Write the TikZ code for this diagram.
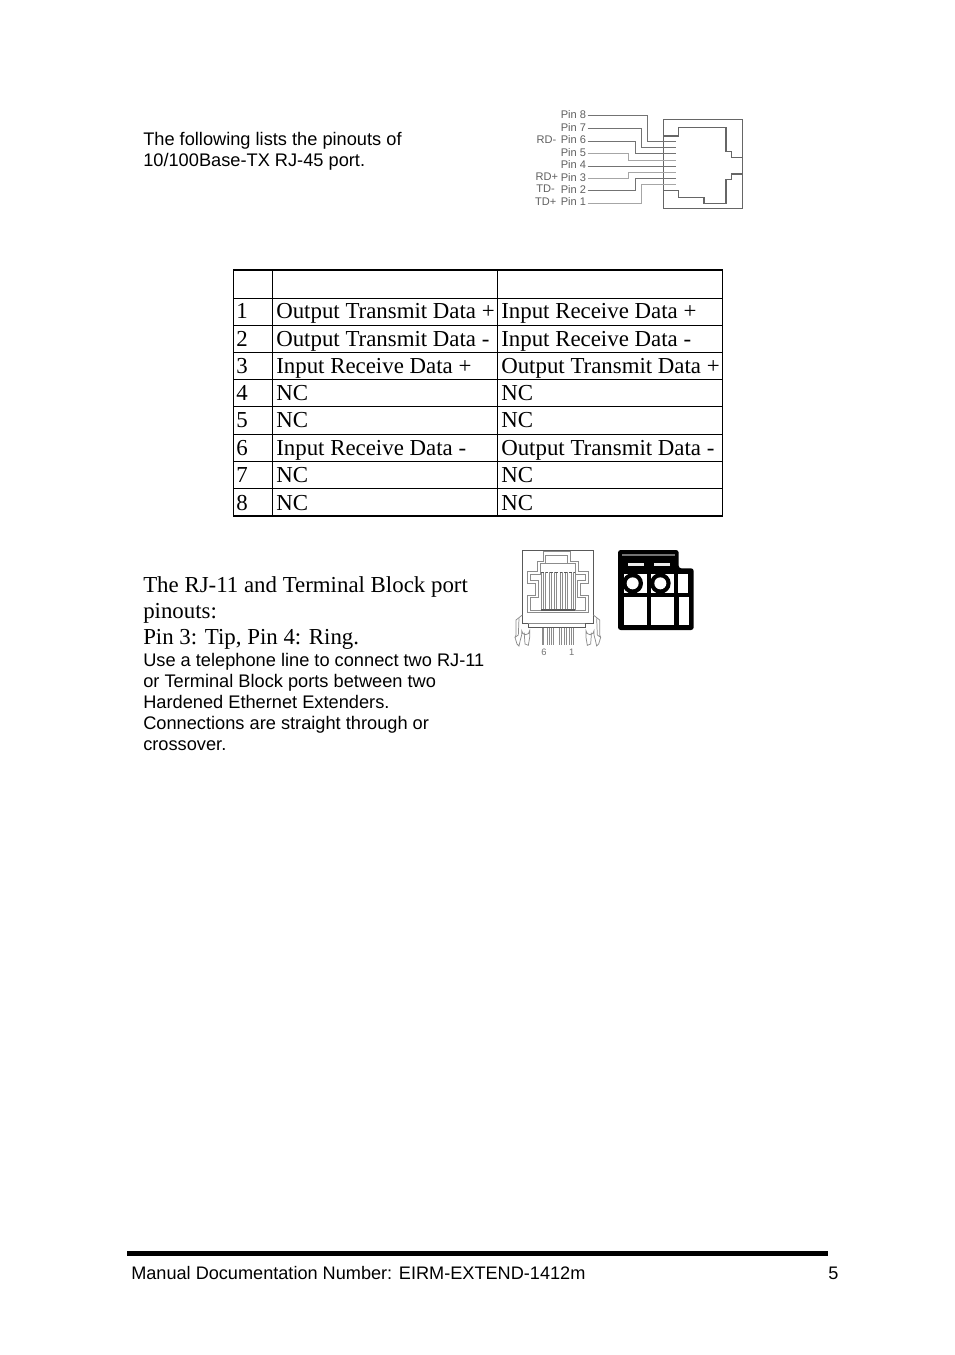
\documentclass[tikz,border=0pt]{standalone}
\usepackage{fontspec}
\setmainfont{Liberation Serif}
\newfontfamily\arial{Liberation Sans}
\tikzset{
  serif/.style={anchor=base west,inner sep=0pt,font=\fontsize{17.15}{20}\selectfont},
  sans/.style={anchor=base west,inner sep=0pt,font=\arial\fontsize{13.67}{16}\selectfont},
  foot/.style={anchor=base west,inner sep=0pt,font=\arial\fontsize{13.6}{16}\selectfont},
  pinl/.style={anchor=base east,inner sep=0pt,text=black!62,font=\arial\fontsize{8.3}{10}\selectfont},
  wire/.style={draw=black!55,line width=0.75pt},
  lwire/.style={draw=black!35,line width=0.75pt},
  shell/.style={draw=black!60,line width=0.8pt},
  rj/.style={draw=black!45,line width=0.55pt},
  rjd/.style={draw=black!65,line width=0.6pt},
  grid/.style={draw=black,line width=0.6pt}
}
\begin{document}
\begin{tikzpicture}[x=0.75pt,y=-0.75pt]
\useasboundingbox (0,0) rectangle (954,1355);
\fill[white] (0,0) rectangle (954,1355);
% text
\node[sans] (t1) at (143,146) {The following lists the pinouts of};
\node[sans] (t2) at (143,167) {10/100Base-TX RJ-45 port.};
% RJ-45
\begin{scope}[shift={(525,100)},x=0.25pt,y=-0.25pt]
\draw[shell,line width=1pt] (416,58) rectangle (652,325);
\draw[shell] (416,108)--(460,108)--(460,83)--(603,83)--(603,155)--(620,155)--(620,172)--(652,172);
\draw[shell] (652,222)--(620,222)--(620,238)--(603,238)--(603,310)--(537,310)--(537,292)--(460,292)--(460,272)--(416,272);
\foreach \n/\y/\lab in {8/58/Pin 8,7/95/Pin 7,6/133/Pin 6,5/171/Pin 5,4/208/Pin 4,3/245/Pin 3,2/281/Pin 2,1/319/Pin 1}
  \node[pinl] (p\n) at (184,\y-1) {\lab};
\node[pinl] (rdm) at (95,130) {RD-};
\node[pinl] (rdp) at (100,242) {RD+};
\node[pinl] (tdm) at (90,279) {TD-};
\node[pinl] (tdp) at (95,317) {TD+};
\coordinate (s8) at (452,124);\coordinate (s7) at (452,143);\coordinate (s6) at (452,161);\coordinate (s5) at (452,181);
\coordinate (s4) at (452,199);\coordinate (s3) at (452,217);\coordinate (s2) at (452,236);\coordinate (s1) at (452,255);
\draw[wire] (188,48)--(368,48)--(368,124)--(s8);
\draw[wire] (188,86)--(349,86)--(349,143)--(s7);
\draw[wire] (188,124)--(330,124)--(330,161)--(s6);
\draw[lwire] (188,162)--(310,162)--(310,181)--(s5);
\draw[wire] (188,199)--(s4);
\draw[lwire] (188,236)--(310,236)--(310,217)--(s3);
\draw[wire] (188,272)--(330,272)--(330,236)--(s2);
\draw[lwire] (188,310)--(349,310)--(349,255)--(s1);
\end{scope}
% table
\draw[black,line width=1.5pt] (233,270)--(723,270);
\draw[black,line width=1.5pt] (233,516)--(723,516);
\foreach \y in {298,325,352,379,406,434,461,488} \draw[grid] (233,\y)--(723,\y);
\foreach \x in {233.5,272,497,722} \draw[grid] (\x,270)--(\x,516);
\foreach \n/\y/\a/\b in {
 1/318/Output Transmit Data +/Input Receive Data +,
 2/346/Output Transmit Data -/Input Receive Data -,
 3/373/Input Receive Data +/Output Transmit Data +,
 4/400/NC/NC,
 5/427/NC/NC,
 6/455/Input Receive Data -/Output Transmit Data -,
 7/482/NC/NC,
 8/510/NC/NC}{
  \node[serif] (r\n) at (236,\y) {\n};
  \node[serif] (a\n) at (276,\y) {\a};
  \node[serif] (b\n) at (501,\y) {\b};
}
% RJ-11 text
\node[serif] (h1) at (143,592) {The RJ-11 and Terminal Block port};
\node[serif] (h2) at (143,618) {pinouts:};
\node[serif] (h3) at (143,644) {Pin 3: Tip, Pin 4: Ring.};
\node[sans] (u1) at (143,666) {Use a telephone line to connect two RJ-11};
\node[sans] (u2) at (143,687) {or Terminal Block ports between two};
\node[sans] (u3) at (143,708) {Hardened Ethernet Extenders.};
\node[sans] (u4) at (143,729) {Connections are straight through or};
\node[sans] (u5) at (143,750) {crossover.};
% RJ-11 drawing
\begin{scope}[shift={(505,540)},x=0.25pt,y=-0.25pt]
% body
\draw[rjd] (52,225)--(52,30)--(265,30)--(265,225);
\draw[rjd] (52,225)--(52,250)--(70,250)--(70,262)--(240,262)--(240,250)--(265,250)--(265,225);
\draw[rj] (70,250)--(240,250);
% stepped contours
\draw[rj] (68,218)--(68,165)--(92,165)--(92,130)--(68,130)--(68,95)--(98,95)--(98,65)--(115,65)--(115,35)--(195,35)--(195,65)--(220,65)--(220,95)--(250,95)--(250,130)--(225,130)--(225,165)--(250,165)--(250,218)--cycle;
\draw[rj] (76,210)--(76,172)--(100,172)--(100,122)--(76,122)--(76,103)--(106,103)--(106,70)--(210,70)--(210,103)--(242,103)--(242,122)--(217,122)--(217,172)--(242,172)--(242,210)--cycle;
\draw[rj] (122,70)--(122,45)--(187,45)--(187,70);
% contacts
\foreach \x in {108,116,122,132,138,148,154,166,172,182,188,198,204,210}
  \draw[rj] (\x,97)--(\x,210);
\draw[rjd,line width=0.9pt] (108,210)--(210,210);
\draw[rjd,dash pattern=on 2pt off 1.5pt] (108,97)--(210,97);
% pins
\foreach \x in {113,116,126,132,140,146,162,168,178,184,194,200,205}
  \draw[rj] (\x,265)--(\x,316);
% clips
\draw[rj] (52,225)--(33,240)--(33,285)--(30,292)--(36,312)--(42,318)--(46,300)--(50,285)--(50,272) arc[start angle=180,end angle=0,radius=12]--(74,292)--(70,316)--(60,312)--(58,285)--(58,278);
\draw[rj] (42,235)--(40,285)--(30,292);
\draw[rj] (265,225)--(284,240)--(284,285)--(287,292)--(281,312)--(275,318)--(271,300)--(267,285)--(267,272) arc[start angle=0,end angle=180,radius=12]--(243,292)--(247,316)--(257,312)--(259,285)--(259,278);
\draw[rj] (275,235)--(277,285)--(287,292);
\node[inner sep=0pt,text=black!55,font=\arial\fontsize{7}{8}\selectfont] (six) at (117,336) {6};
\node[inner sep=0pt,text=black!55,font=\arial\fontsize{7}{8}\selectfont] (one) at (200,336) {1};
% terminal block
\fill[black,rounded corners=2pt] (339,30)--(521,30)--(521,85)--(566,85)--(566,270)--(339,270)--cycle;
\fill[black!55] (351,42) rectangle (511,48);
\fill[black!8] (368,70) rectangle (416,78);
\fill[black!8] (448,70) rectangle (496,78);
\fill[white] (358,170) rectangle (426,255);
\fill[white] (439,170) rectangle (506,255);
\fill[white] (521,170) rectangle (551,255);
\fill[white] (519,103) rectangle (549,158);
\fill[white] (358,103) rectangle (426,158);
\fill[white] (439,103) rectangle (506,158);
\fill[black] (383,130) circle[radius=31];
\fill[black] (466,130) circle[radius=31];
\fill[white] (383,130) circle[radius=18];
\fill[white] (466,130) circle[radius=18];
\end{scope}
% footer
\fill[black] (127,1251) rectangle (828,1256);
\node[foot] (f1) at (131,1279) {Manual Documentation Number: EIRM-EXTEND-1412m};
\node[foot] (f2) at (828,1279) {5};
\end{tikzpicture}
\end{document}
